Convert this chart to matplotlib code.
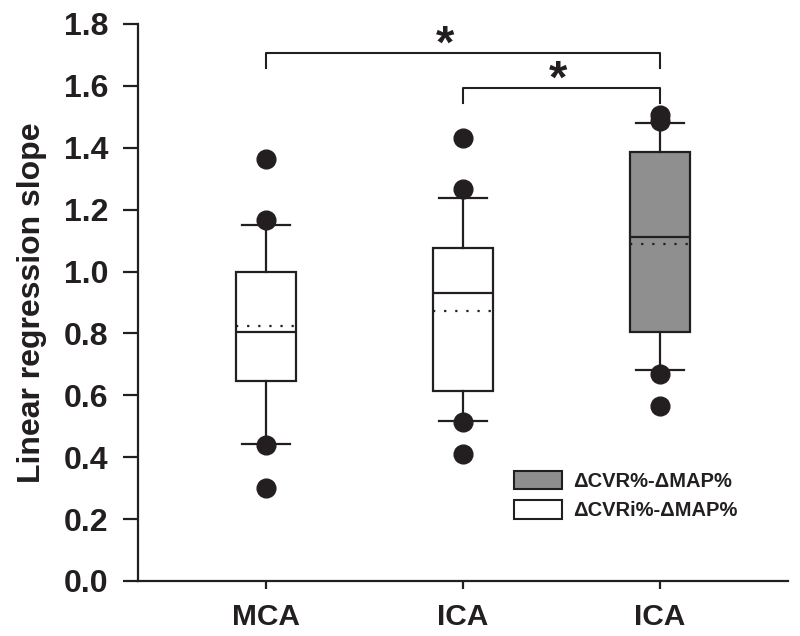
import matplotlib
matplotlib.use("Agg")
import matplotlib.pyplot as plt
from matplotlib.patches import Patch

plt.rcParams['font.family'] = ['Liberation Sans', 'DejaVu Sans']
plt.rcParams['font.weight'] = 'bold'

# ---- data ----
categories = ["MCA", "ICA", "ICA"]
q1 = [0.645, 0.613, 0.803]
q3 = [1.000, 1.077, 1.385]
medians = [0.805, 0.930, 1.113]
means = [0.823, 0.874, 1.090]
whislo = [0.443, 0.518, 0.683]
whishi = [1.150, 1.237, 1.480]
fliers = [[1.365, 1.167, 0.440, 0.302],
          [1.433, 1.267, 0.515, 0.410],
          [1.505, 1.485, 0.670, 0.565]]
groups = ["ΔCVRi%-ΔMAP%", "ΔCVRi%-ΔMAP%", "ΔCVR%-ΔMAP%"]
yticks = [0.0, 0.2, 0.4, 0.6, 0.8, 1.0, 1.2, 1.4, 1.6, 1.8]
sig_pairs = [(1, 3, 1.705), (2, 3, 1.592)]
star_x = [1.909, 2.482]

ink = '#231f20'
gray = '#8f8f8f'
colors = {"ΔCVRi%-ΔMAP%": 'white', "ΔCVR%-ΔMAP%": gray}

fig = plt.figure(figsize=(8, 6.36), dpi=100)
ax = fig.add_axes([0.1725, 0.0865, 0.8125, 0.8758])

stats = []
for i in range(3):
    stats.append(dict(med=medians[i], mean=means[i], q1=q1[i], q3=q3[i],
                      whislo=whislo[i], whishi=whishi[i], fliers=[]))
positions = [1, 2, 3]
bp = ax.bxp(stats, positions=positions, widths=0.30, patch_artist=True,
            showmeans=True, meanline=True, showfliers=False,
            boxprops=dict(linewidth=1.6, edgecolor=ink),
            medianprops=dict(color=ink, linewidth=1.6),
            meanprops=dict(color=ink, linewidth=1.6, linestyle=(0, (1, 4))),
            whiskerprops=dict(color=ink, linewidth=1.6),
            capprops=dict(color=ink, linewidth=1.6),
            capwidths=0.24)
for patch, g in zip(bp['boxes'], groups):
    patch.set_facecolor(colors[g])
for i, f in enumerate(fliers):
    ax.plot([positions[i]] * len(f), f, 'o', color=ink, markersize=13.5,
            linestyle='none', zorder=5)

# significance brackets
for (a, b, y), sx in zip(sig_pairs, star_x):
    ax.plot([a, a, b, b], [y - 0.047, y, y, y - 0.047], color=ink,
            linewidth=1.5, clip_on=False)
    ax.text(sx, y - 0.015, '*', ha='center', va='baseline',
            fontsize=34, fontweight='bold', color=ink)

ax.set_xlim(0.35, 3.65)
ax.set_ylim(0, 1.8)
ax.set_yticks(yticks)
ax.set_yticklabels([f"{v:.1f}" for v in yticks])
ax.set_xticks(positions)
ax.set_xticklabels(categories)
for s in ['top', 'right']:
    ax.spines[s].set_visible(False)
for s in ['left', 'bottom']:
    ax.spines[s].set_linewidth(1.6)
    ax.spines[s].set_color(ink)
ax.tick_params(axis='y', direction='out', length=11, width=1.6, color=ink,
               labelsize=23, labelcolor=ink, pad=10.5)
ax.tick_params(axis='x', direction='out', length=6, width=1.6, color=ink,
               labelsize=21.5, labelcolor=ink, pad=10)
for lab in ax.get_xticklabels() + ax.get_yticklabels():
    lab.set_fontweight('bold')
ax.set_ylabel('Linear regression slope', fontsize=23, fontweight='bold',
              color=ink, labelpad=12)

handles = [Patch(facecolor=gray, edgecolor=ink, linewidth=1.5, label="ΔCVR%-ΔMAP%"),
           Patch(facecolor='white', edgecolor=ink, linewidth=1.5, label="ΔCVRi%-ΔMAP%")]
leg = ax.legend(handles=handles, loc='upper left', bbox_to_anchor=(0.578, 0.198),
                frameon=False, fontsize=14.5, handlelength=2.4, handleheight=1.05,
                handletextpad=0.55, labelspacing=0.45, borderaxespad=0,
                borderpad=0)
for t in leg.get_texts():
    t.set_fontweight('bold')
    t.set_color(ink)

fig.savefig('out.png', dpi=100)
